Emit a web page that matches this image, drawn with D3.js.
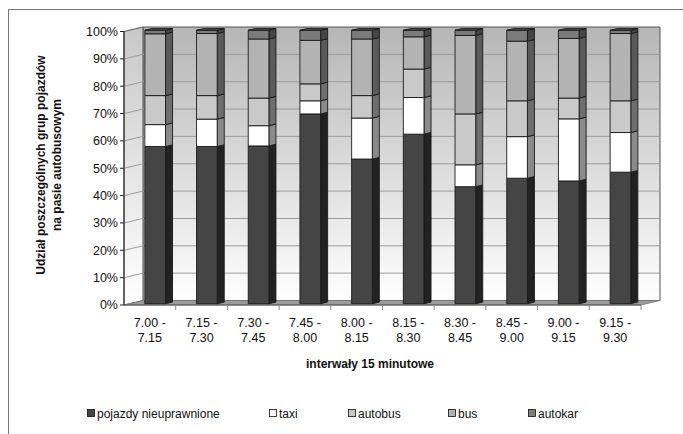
<!DOCTYPE html>
<html>
<head>
<meta charset="utf-8">
<script src="https://cdn.jsdelivr.net/npm/d3@7"></script>
<style>
  html, body { margin: 0; padding: 0; background: #fff; }
  svg { display: block; font-family: "Liberation Sans", Arial, sans-serif; }
</style>
</head>
<body>
<svg id="chart" width="683" height="434"></svg>
<script>
// Time intervals (15 minutes each)
const categories = ["7.00 - 7.15", "7.15 - 7.30", "7.30 - 7.45", "7.45 - 8.00", "8.00 - 8.15",
                    "8.15 - 8.30", "8.30 - 8.45", "8.45 - 9.00", "9.00 - 9.15", "9.15 - 9.30"];

// Share of each vehicle group in the bus lane [%]
const seriesNames = ["pojazdy nieuprawnione", "taxi", "autobus", "bus", "autokar"];
const nieuprawnione = [57.5, 57.5, 57.7, 69.4, 52.9, 62.0, 42.8, 45.9, 44.9, 48.1];
const taxi          = [ 8.0, 10.0,  7.4,  4.8, 15.0, 13.4,  8.0, 15.2, 22.7, 14.5];
const autobus       = [10.6,  8.6, 10.1,  6.2,  8.2, 10.4, 18.6, 13.1,  7.6, 11.6];
const bus           = [22.6, 22.7, 21.6, 15.9, 20.7, 11.8, 28.7, 21.8, 21.8, 24.6];
const autokar       = [ 1.3,  1.2,  3.2,  3.7,  3.2,  2.4,  1.9,  4.0,  3.0,  1.2];

const yTicks = [0, 10, 20, 30, 40, 50, 60, 70, 80, 90, 100];

// Fill colours: front, side, top, legend swatch
const palette = {
  "pojazdy nieuprawnione": { front: "#454545", side: "#222222", top: "#333333", key: "#444444" },
  "taxi":                  { front: "#ffffff", side: "#8a8a8a", top: "#bbbbbb", key: "#ffffff" },
  "autobus":               { front: "#c9c9c9", side: "#6e6e6e", top: "#999999", key: "#c9c9c9" },
  "bus":                   { front: "#b3b3b3", side: "#5a5a5a", top: "#888888", key: "#b3b3b3" },
  "autokar":               { front: "#7b7b7b", side: "#454545", top: "#555555", key: "#808080" }
};

const rows = categories.map((c, i) => ({
  cat: c,
  "pojazdy nieuprawnione": nieuprawnione[i],
  "taxi": taxi[i],
  "autobus": autobus[i],
  "bus": bus[i],
  "autokar": autokar[i]
}));

const svg = d3.select("#chart");

// Outer frame
svg.append("rect").attr("x", 8.5).attr("y", 9.5).attr("width", 690).attr("height", 440)
  .attr("fill", "none").attr("stroke", "#777").attr("stroke-width", 1);

// 3D geometry: front plane and depth offset
const plotL = 124, plotR = 641, plotB = 305, plotT = 31.5;
const depthX = 19, depthY = -4.5;
const barF1 = 0.28, barF2 = 0.65;   // bar front/back as fractions of the depth

const x = d3.scaleBand().domain(categories).range([plotL, plotR]).paddingInner(0.6).paddingOuter(0.3);
const xTickBand = d3.scaleBand().domain(categories).range([plotL, plotR]).padding(0);
const y = d3.scaleLinear().domain([0, 100]).range([plotB, plotT]);

const P = (px, v, f) => [px + f * depthX, y(v) + f * depthY];
const poly = pts => pts.map(p => p.join(",")).join(" ");

const defs = svg.append("defs");
const g1 = defs.append("linearGradient").attr("id", "wallGrad").attr("x1", 0).attr("y1", 0).attr("x2", 0).attr("y2", 1);
g1.append("stop").attr("offset", "0").attr("stop-color", "#b6b6b6");
g1.append("stop").attr("offset", "1").attr("stop-color", "#ffffff");
const g2 = defs.append("linearGradient").attr("id", "sideGrad").attr("x1", 0).attr("y1", 0).attr("x2", 0).attr("y2", 1);
g2.append("stop").attr("offset", "0").attr("stop-color", "#c8c8c8");
g2.append("stop").attr("offset", "1").attr("stop-color", "#ffffff");

// Back wall
svg.append("polygon")
  .attr("points", poly([P(plotL, 100, 1), P(plotR, 100, 1), P(plotR, 0, 1), P(plotL, 0, 1)]))
  .attr("fill", "url(#wallGrad)").attr("stroke", "#555").attr("stroke-width", 1);

// Side wall
svg.append("polygon")
  .attr("points", poly([P(plotL, 100, 0), P(plotL, 100, 1), P(plotL, 0, 1), P(plotL, 0, 0)]))
  .attr("fill", "url(#sideGrad)").attr("stroke", "#555").attr("stroke-width", 1);

// Gridlines on back and side walls
const grid = svg.append("g").attr("fill", "none").attr("stroke", "#9c9c9c").attr("stroke-width", 1);
yTicks.filter(t => t > 0 && t < 100).forEach(t => {
  grid.append("polyline").attr("points", poly([P(plotL, t, 0), P(plotL, t, 1), P(plotR, t, 1)]));
});

// Floor
svg.append("polygon")
  .attr("points", poly([P(plotL, 0, 0), P(plotR, 0, 0), P(plotR, 0, 1), P(plotL, 0, 1)]))
  .attr("fill", "#9a9a9a").attr("stroke", "#777").attr("stroke-width", 0.8);

// Stacked bars
const stack = d3.stack().keys(seriesNames)(rows);
const bw = x.bandwidth();
categories.forEach((c, i) => {
  const gBar = svg.append("g").attr("stroke", "#1a1a1a").attr("stroke-width", 0.9).attr("stroke-linejoin", "round");
  const x0 = x(c), x1 = x(c) + bw;
  stack.forEach((layer, k) => {
    const v0 = layer[i][0], v1 = layer[i][1];
    const col = palette[layer.key];
    // side face
    gBar.append("polygon")
      .attr("points", poly([P(x1, v0, barF1), P(x1, v0, barF2), P(x1, v1, barF2), P(x1, v1, barF1)]))
      .attr("fill", col.side);
    // front face
    gBar.append("polygon")
      .attr("points", poly([P(x0, v0, barF1), P(x1, v0, barF1), P(x1, v1, barF1), P(x0, v1, barF1)]))
      .attr("fill", col.front);
    if (k === stack.length - 1) {
      gBar.append("polygon")
        .attr("points", poly([P(x0, v1, barF1), P(x1, v1, barF1), P(x1, v1, barF2), P(x0, v1, barF2)]))
        .attr("fill", col.top);
    }
  });
});

// Value axis (front left edge)
const yAxis = svg.append("g");
yAxis.append("line").attr("x1", plotL).attr("x2", plotL).attr("y1", y(0)).attr("y2", y(100))
  .attr("stroke", "#222").attr("stroke-width", 1);
yTicks.forEach(t => {
  yAxis.append("line").attr("x1", plotL - 4).attr("x2", plotL).attr("y1", y(t)).attr("y2", y(t))
    .attr("stroke", "#222");
  yAxis.append("text").attr("x", plotL - 6).attr("y", y(t)).attr("dy", "0.35em")
    .attr("text-anchor", "end").attr("font-size", 12.5).attr("fill", "#111").text(t + "%");
});

// Category axis (front bottom edge)
const xAxis = svg.append("g");
xAxis.append("line").attr("x1", plotL).attr("x2", plotR).attr("y1", plotB).attr("y2", plotB)
  .attr("stroke", "#555");
categories.forEach((c, i) => {
  const bx = xTickBand(c);
  if (i > 0) xAxis.append("line").attr("x1", bx).attr("x2", bx).attr("y1", plotB).attr("y2", plotB + 5).attr("stroke", "#888");
  const cx = bx + xTickBand.bandwidth() / 2;
  const parts = c.split(" - ");
  const t = xAxis.append("text").attr("text-anchor", "middle").attr("font-size", 12.5).attr("fill", "#111");
  t.append("tspan").attr("x", cx).attr("y", 326.5).text(parts[0] + " -");
  t.append("tspan").attr("x", cx).attr("y", 341.5).text(parts[1]);
});
xAxis.append("line").attr("x1", plotR).attr("x2", plotR).attr("y1", plotB).attr("y2", plotB + 5).attr("stroke", "#888");

// Axis titles
svg.append("text").attr("x", 370).attr("y", 368).attr("text-anchor", "middle")
  .attr("font-size", 12).attr("font-weight", "bold").attr("fill", "#111").text("interwały 15 minutowe");

const yTitle = svg.append("text").attr("transform", "translate(45,165) rotate(-90)")
  .attr("text-anchor", "middle").attr("font-size", 12).attr("font-weight", "bold").attr("fill", "#111");
yTitle.append("tspan").attr("x", 0).attr("y", 0).text("Udział poszczególnych grup pojazdów");
yTitle.append("tspan").attr("x", 0).attr("y", 16).text("na pasie autobusowym");

// Legend
const legendX = [87, 269, 348, 448, 528];
const legend = svg.append("g");
seriesNames.forEach((s, i) => {
  legend.append("rect").attr("x", legendX[i] + 0.5).attr("y", 409.5).attr("width", 7).attr("height", 7)
    .attr("fill", palette[s].key)
    .attr("stroke", "#111").attr("stroke-width", 0.8);
  legend.append("text").attr("x", legendX[i] + 10).attr("y", 413.5).attr("dy", "0.35em")
    .attr("font-size", 12).attr("fill", "#111").text(s);
});
</script>
</body>
</html>
